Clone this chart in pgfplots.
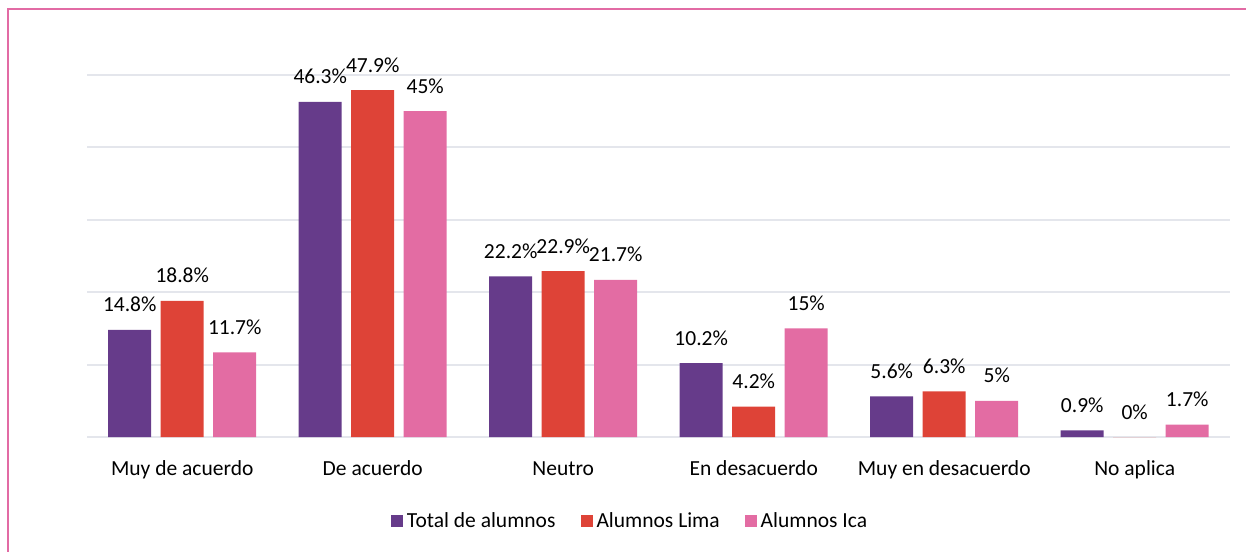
\documentclass[border=0pt]{standalone}
\usepackage{fontspec}
\setmainfont{Carlito}
\usepackage{pgfplots}
\pgfplotsset{compat=1.18}
\definecolor{cpurple}{HTML}{663B8A}
\definecolor{cred}{HTML}{DE4337}
\definecolor{cpink}{HTML}{E36CA3}
\definecolor{cgrid}{HTML}{E4E6EC}
\definecolor{cborder}{HTML}{E26BA4}
\begin{document}
\begin{tikzpicture}
\useasboundingbox (0bp,0bp) rectangle (1246bp,-552bp);
\draw[cborder, line width=1.5bp] (8bp,-560bp) -- (8bp,-9bp) -- (1260bp,-9bp);
\begin{axis}[
  at={(87bp,-437bp)}, anchor=south west,
  scale only axis, width=1143bp, height=362bp,
  xmin=-0.5, xmax=5.5, ymin=0, ymax=50,
  enlargelimits=false, clip=false,
  axis line style={draw=none},
  tick style={draw=none},
  ytick={0,10,20,30,40,50}, yticklabels={},
  ymajorgrids, major grid style={color=cgrid, line width=2bp},
  xtick={0,1,2,3,4,5},
  xticklabels={Muy de acuerdo, De acuerdo, Neutro, En desacuerdo, Muy en desacuerdo, No aplica},
  xticklabel style={anchor=base, yshift=-34bp, inner sep=0pt},
  font=\fontsize{21.5bp}{25bp}\selectfont,
  ybar=9.5bp, bar width=43bp,
  nodes near coords={\pgfmathprintnumber[assume math mode=true]{\pgfplotspointmeta}\%},
  every node near coord/.append style={anchor=base, yshift=18bp, inner sep=0pt, text=black, font=\fontsize{21.5bp}{25bp}\selectfont},
  legend columns=3,
  legend style={draw=none, fill=none, at={(0.476,-0.232)}, anchor=center,
    font=\fontsize{21.5bp}{25bp}\selectfont,
    /tikz/every even column/.append style={column sep=22bp},
    nodes={inner ysep=2bp, inner xsep=3.5bp}},
  legend image code/.code={\fill[#1] (0bp,-6bp) rectangle (12bp,6bp);},
]
\addplot[fill=cpurple, draw=none] coordinates {(0,14.8) (1,46.3) (2,22.2) (3,10.2) (4,5.6) (5,0.9)};
\addplot[fill=cred, draw=none] coordinates {(0,18.8) (1,47.9) (2,22.9) (3,4.2) (4,6.3) (5,0)};
\addplot[fill=cpink, draw=none] coordinates {(0,11.7) (1,45) (2,21.7) (3,15) (4,5) (5,1.7)};
\legend{Total de alumnos, Alumnos Lima, Alumnos Ica}
\end{axis}
\end{tikzpicture}
\end{document}
